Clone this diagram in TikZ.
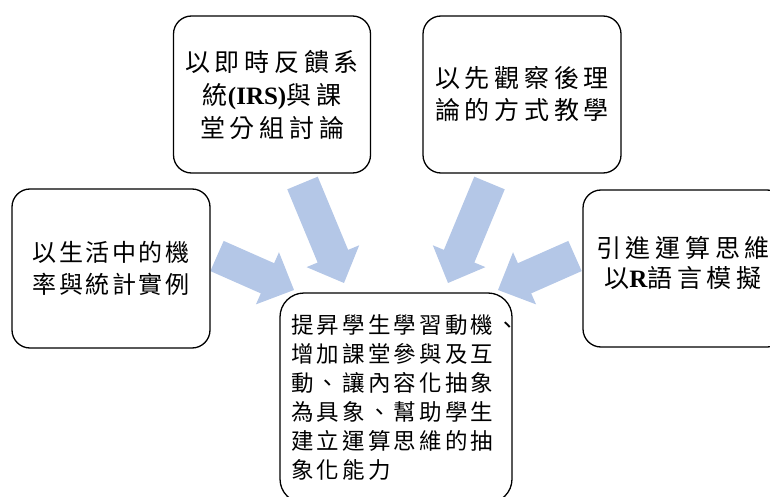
\documentclass[tikz,border=0pt]{standalone}
\usepackage{fontspec}
\setmainfont{Liberation Serif}
\newfontfamily\cjkA{Noto Sans CJK TC}[LetterSpace=19]
\newfontfamily\cjkB{Noto Sans CJK TC}[LetterSpace=11]
\newfontfamily\cjkC{Noto Sans CJK TC}[LetterSpace=14]
\definecolor{arrowblue}{RGB}{180,199,231}
\tikzset{
  box/.style={draw=black, line width=1.3pt, fill=white, rounded corners=18pt, inner sep=0pt, align=center},
  arrowfill/.style={fill=arrowblue, draw=none},
}
% block arrow: tail centre (x,y) -> tip (x,y), pixel coordinates, y downwards
\newcommand\blockarrow[4]{%
  \pgfmathsetmacro\bdx{#3-#1}%
  \pgfmathsetmacro\bdy{#2-#4}%
  \pgfmathsetmacro\bang{atan2(\bdy,\bdx)}%
  \pgfmathsetmacro\blen{veclen(\bdx,\bdy)}%
  \begin{scope}[shift={(#1,-#2)},rotate=\bang]
    \fill[arrowfill] (0,16.5) -- ({\blen-29},16.5) -- ({\blen-29},28.5) -- (\blen,0)
      -- ({\blen-29},-28.5) -- ({\blen-29},-16.5) -- (0,-16.5) -- cycle;
  \end{scope}}
\begin{document}
\begin{tikzpicture}[x=1pt,y=1pt]
\useasboundingbox (0,0) rectangle (770,-497);
\clip (0,0) rectangle (770,-497);
% arrows
\blockarrow{217}{256}{294}{290}
\blockarrow{575}{256}{498}{290}
\blockarrow{302.5}{183}{344}{283}
\blockarrow{489.5}{183}{448}{283}
% boxes
\node[box, minimum width=197pt, minimum height=157pt,
  font={\cjkA\fontsize{25}{33}\selectfont}] (irs) at (272,-94.5)
  {以即時反饋系\\統{\rmfamily\bfseries(IRS)}與課\\堂分組討論};
\node[box, minimum width=198pt, minimum height=157pt,
  font={\cjkA\fontsize{25}{32}\selectfont}] (obs) at (522,-94.5)
  {以先觀察後理\\論的方式教學};
\node[box, minimum width=198pt, minimum height=159pt,
  font={\cjkB\fontsize{24}{32}\selectfont}] (life) at (111,-268.5)
  {以生活中的機\\率與統計實例};
\node[box, minimum width=202pt, minimum height=157pt] (rlang) at (684,-268.5) {};
\node[align=center, inner sep=0pt, font={\cjkA\fontsize{25}{30}\selectfont}] (rtext) at (683,-263)
  {引進運算思維\\以{\rmfamily\bfseries R}語言模擬};
\node[box, rounded corners=24pt, minimum width=232pt, minimum height=210pt] (goal) at (396,-398) {};
\node[align=left, inner sep=0pt, anchor=west, font={\cjkC\fontsize{22.5}{29}\selectfont}] (goaltext) at (291,-397.5)
  {提昇學生學習動機、\\增加課堂參與及互\\動、讓內容化抽象\\為具象、幫助學生\\建立運算思維的抽\\象化能力};
\end{tikzpicture}
\end{document}
